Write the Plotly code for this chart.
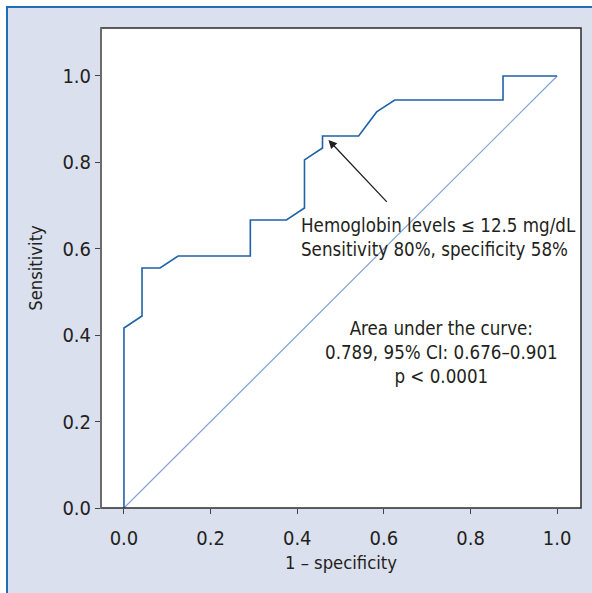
import plotly.graph_objects as go

# ROC curve points (1 - specificity, sensitivity)
fpr = [0.0, 0.0, 0.0417, 0.0417, 0.0833, 0.125, 0.2917, 0.2917, 0.375, 0.4167,
       0.4167, 0.4583, 0.4583, 0.5417, 0.5833, 0.625, 0.875, 0.875, 1.0]
tpr = [0.0, 0.4167, 0.4444, 0.5556, 0.5556, 0.5833, 0.5833, 0.6667, 0.6667, 0.6944,
       0.8056, 0.8333, 0.8611, 0.8611, 0.9167, 0.9444, 0.9444, 1.0, 1.0]
ref_x = [0.0, 1.0]
ref_y = [0.0, 1.0]
tick_vals = [0.0, 0.2, 0.4, 0.6, 0.8, 1.0]
tick_text = ["0.0", "0.2", "0.4", "0.6", "0.8", "1.0"]

FONT = "DejaVu Sans Condensed, Liberation Sans Narrow, sans-serif"
TXT = "#231f20"

fig = go.Figure()
fig.add_trace(go.Scatter(x=ref_x, y=ref_y, mode="lines",
                         line=dict(color="#7ea3d3", width=1.2), hoverinfo="skip"))
fig.add_trace(go.Scatter(x=fpr, y=tpr, mode="lines",
                         line=dict(color="#1f62a8", width=1.6), hoverinfo="skip"))

W, H = 592, 593
ml, mr, mt, mb = 101, 11, 28, 85
pw, ph = W - ml - mr, H - mt - mb

def px_x(p):
    return (p - ml) / pw

def px_y(p):
    return (H - mb - p) / ph

shapes = [
    # white strips outside the blue frame
    dict(type="rect", xref="paper", yref="paper", x0=px_x(0), x1=px_x(W), y0=px_y(6), y1=px_y(0),
         fillcolor="white", line=dict(width=0)),
    dict(type="rect", xref="paper", yref="paper", x0=px_x(0), x1=px_x(6), y0=px_y(H), y1=px_y(0),
         fillcolor="white", line=dict(width=0)),
    # blue frame lines
    dict(type="line", xref="paper", yref="paper", x0=px_x(6), x1=px_x(W), y0=px_y(7), y1=px_y(7),
         line=dict(color="#1f6db5", width=2)),
    dict(type="line", xref="paper", yref="paper", x0=px_x(7), x1=px_x(7), y0=px_y(6), y1=px_y(H),
         line=dict(color="#1f6db5", width=2)),
    # plot frame
    dict(type="rect", xref="paper", yref="paper", x0=0, x1=1, y0=0, y1=1,
         line=dict(color="#2b2b2b", width=1.5), layer="above"),
    dict(type="line", xref="paper", yref="paper", x0=0, x1=0, y0=0, y1=1,
         line=dict(color="#6b6b6b", width=2), layer="above"),
]

annotations = [
    dict(x=0.472, y=0.852, ax=0.610, ay=0.705, xref="x", yref="y", axref="x", ayref="y",
         text="", showarrow=True, arrowhead=2, arrowsize=1.3, arrowwidth=1.3, arrowcolor=TXT),
    dict(x=0.404, y=0.625, xref="x", yref="y", xanchor="left", yanchor="middle", align="left",
         text="Hemoglobin levels ≤ 12.5 mg/dL<br>Sensitivity 80%, specificity 58%",
         showarrow=False, font=dict(family=FONT, size=18.6, color=TXT)),
    dict(x=0.732, y=0.359, xref="x", yref="y", xanchor="center", yanchor="middle", align="center",
         text="Area under the curve:<br>0.789, 95% CI: 0.676–0.901<br>p < 0.0001",
         showarrow=False, font=dict(family=FONT, size=18.6, color=TXT)),
]

fig.update_layout(
    width=W, height=H,
    margin=dict(l=ml, r=mr, t=mt, b=mb),
    paper_bgcolor="#dbe0ee", plot_bgcolor="white",
    showlegend=False,
    font=dict(family=FONT, size=18.6, color=TXT),
    shapes=shapes, annotations=annotations,
    xaxis=dict(range=[-0.053, 1.055], tickvals=tick_vals, ticktext=tick_text,
               ticks="outside", ticklen=5, tickcolor="#444", showgrid=False, zeroline=False,
               showline=False, ticklabelstandoff=7,
               title=dict(text="1 – specificity", standoff=7, font=dict(size=18.3)),
               tickfont=dict(size=20)),
    yaxis=dict(range=[0, 1.111], tickvals=tick_vals, ticktext=tick_text,
               ticks="outside", ticklen=5, tickcolor="#444", showgrid=False, zeroline=False,
               showline=False,
               title=dict(text="Sensitivity", standoff=14, font=dict(size=18.3)),
               tickfont=dict(size=20)),
)

# let the figure fill the window exactly (no default body margin, no scrollbars)
page_fix = ("document.documentElement.style.margin='0';"
            "document.body.style.margin='0';"
            "document.documentElement.style.overflow='hidden';"
            "document.body.style.overflow='hidden';")

fig.write_html("out.html", post_script=page_fix, config={"displayModeBar": False})
